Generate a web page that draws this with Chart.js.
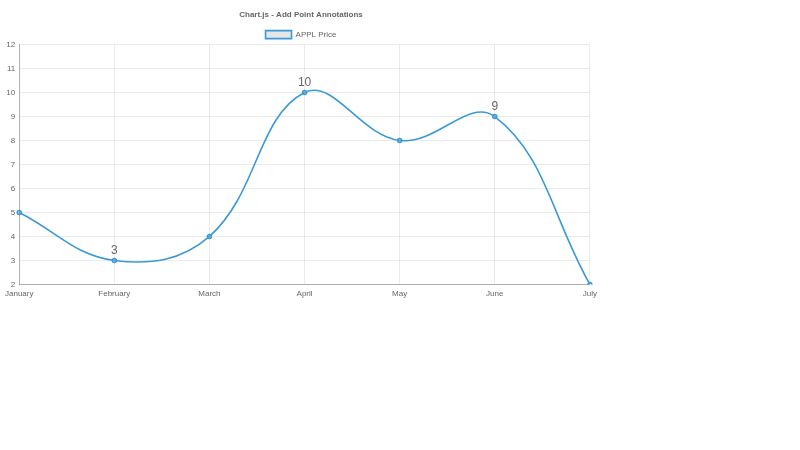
<!DOCTYPE html>
<html>
<head>
<meta charset="utf-8">
<script src="https://cdn.jsdelivr.net/npm/chart.js@4"></script>
<style>
html,body{margin:0;padding:0;background:#fff;}
#wrap{position:absolute;left:0;top:0;width:602px;height:304px;}
</style>
</head>
<body>
<div id="wrap"><canvas id="c"></canvas></div>
<script>
const categories = ['January','February','March','April','May','June','July'];
const seriesName = 'APPL Price';
const priceValues = [5, 3, 4, 10, 8, 9, 2];
const annotatedIndices = [1, 3, 5];
const yTicksMin = 2;
const yTicksMax = 12;

const annotationPlugin = {
  id: 'pointAnnotations',
  afterDatasetsDraw(chart) {
    const ctx = chart.ctx;
    const xs = chart.scales.x, ys = chart.scales.y;
    ctx.save();
    ctx.font = '12px "Liberation Sans", Arial, sans-serif';
    ctx.fillStyle = '#666';
    ctx.textAlign = 'center';
    ctx.textBaseline = 'bottom';
    annotatedIndices.forEach(i => {
      const x = xs.getPixelForValue(i);
      const y = ys.getPixelForValue(priceValues[i]);
      ctx.fillText(String(priceValues[i]), x, y - 4);
    });
    ctx.restore();
  }
};

Chart.defaults.font.family = '"Liberation Sans", Arial, sans-serif';
Chart.defaults.color = '#666';

new Chart(document.getElementById('c'), {
  type: 'line',
  data: {
    labels: categories,
    datasets: [{
      label: seriesName,
      data: priceValues,
      borderColor: '#3b9ad6',
      backgroundColor: 'rgba(0,0,0,0.1)',
      borderWidth: 1.6,
      fill: false,
      tension: 0.4,
      pointRadius: 2,
      pointBorderWidth: 1.5,
      pointBackgroundColor: 'rgba(120,170,220,0.6)',
      pointBorderColor: '#3b9ad6'
    }]
  },
  options: {
    responsive: true,
    maintainAspectRatio: false,
    animation: false,
    layout: { padding: { left: 0, right: 0, top: 0, bottom: 0 } },
    plugins: {
      title: { display: true, text: 'Chart.js - Add Point Annotations', font: { size: 8, weight: 'bold' }, color: '#666', padding: { top: 9.5, bottom: 9.5 } },
      legend: { maxHeight: 16, labels: { boxWidth: 26, boxHeight: 8, font: { size: 8 }, color: '#666', padding: 2 } },
      tooltip: { enabled: false }
    },
    scales: {
      x: {
        grid: { color: 'rgba(0,0,0,0.08)', drawTicks: false },
        border: { color: 'rgba(0,0,0,0.25)' },
        ticks: { font: { size: 8 }, padding: 5, maxRotation: 0 }
      },
      y: {
        min: yTicksMin, max: yTicksMax,
        grid: { color: 'rgba(0,0,0,0.08)', drawTicks: false },
        border: { color: 'rgba(0,0,0,0.25)' },
        ticks: { font: { size: 8 }, stepSize: 1, padding: 4 }
      }
    }
  },
  plugins: [annotationPlugin]
});
</script>
</body>
</html>
